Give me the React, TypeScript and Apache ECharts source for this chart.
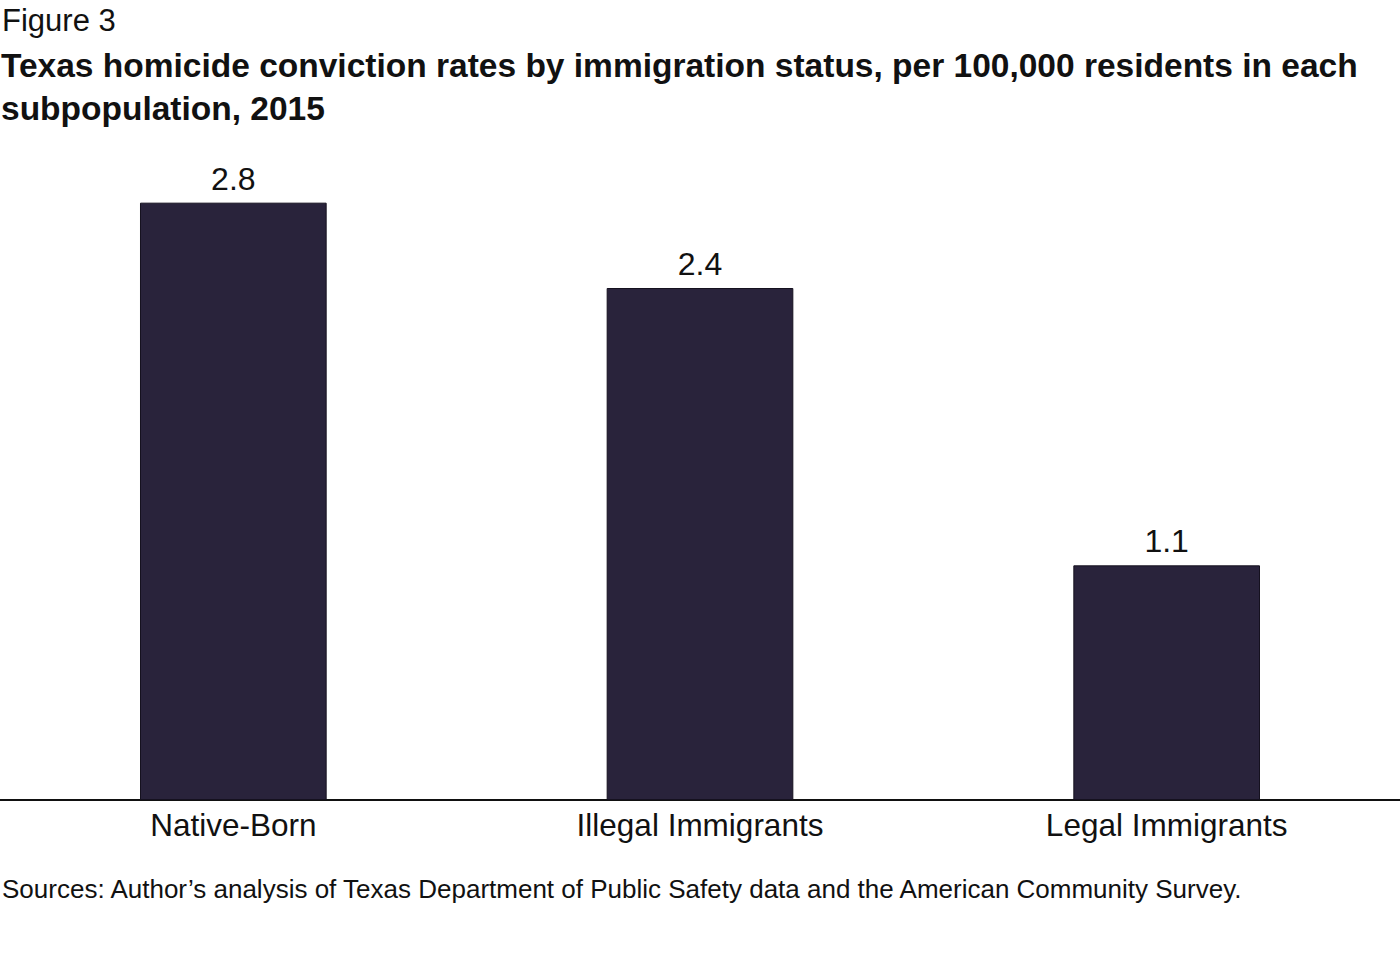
import React, { useEffect, useRef } from "react";
import * as echarts from "echarts";

const categories = ["Native-Born", "Illegal Immigrants", "Legal Immigrants"];
const values = [2.8, 2.4, 1.1];
const figureLabel = "Figure 3";
const titleLines = [
  "Texas homicide conviction rates by immigration status, per 100,000 residents in each",
  "subpopulation, 2015",
];
const sourceText =
  "Sources: Author\u2019s analysis of Texas Department of Public Safety data and the American Community Survey.";

const FONT = "'Liberation Sans', Arial, sans-serif";

export default function App() {
  const ref = useRef<HTMLDivElement>(null);
  useEffect(() => {
    if (!ref.current) return;
    const chart = echarts.init(ref.current, null, { renderer: "svg" });
    chart.setOption({
      animation: false,
      backgroundColor: "#ffffff",
      grid: { left: 0, right: 0, top: 160, bottom: 163, containLabel: false },
      xAxis: {
        type: "category",
        data: categories,
        axisLine: { show: true, lineStyle: { color: "#111111", width: 2 } },
        axisTick: { show: false },
        axisLabel: {
          color: "#111111",
          fontSize: 31.5,
          fontFamily: FONT,
          margin: 9,
        },
      },
      yAxis: {
        type: "value",
        min: 0,
        max: 3,
        show: false,
        splitLine: { show: false },
      },
      series: [
        {
          type: "bar",
          data: values,
          barWidth: "40%",
          itemStyle: { color: "#29233b", borderColor: "#15111f", borderWidth: 1 },
          label: {
            show: true,
            position: "top",
            distance: 8,
            color: "#111111",
            fontSize: 32,
            fontFamily: FONT,
            formatter: (p: any) => p.value.toFixed(1),
          },
        },
      ],
      graphic: [
        {
          type: "text",
          left: 2,
          top: 5,
          style: { text: figureLabel, fontSize: 31, fontFamily: FONT, fill: "#111111" },
        },
        {
          type: "text",
          left: 1,
          top: 44,
          style: {
            text: titleLines.join("\n"),
            fontSize: 33.5,
            fontWeight: "bold",
            lineHeight: 43,
            fontFamily: FONT,
            fill: "#111111",
          },
        },
        {
          type: "text",
          left: 2,
          top: 876,
          style: { text: sourceText, fontSize: 26, fontFamily: FONT, fill: "#111111" },
        },
      ],
    });
    return () => chart.dispose();
  }, []);
  return (
    <div
      ref={ref}
      style={{ position: "fixed", left: 0, top: 0, width: 1400, height: 963 }}
    />
  );
}
